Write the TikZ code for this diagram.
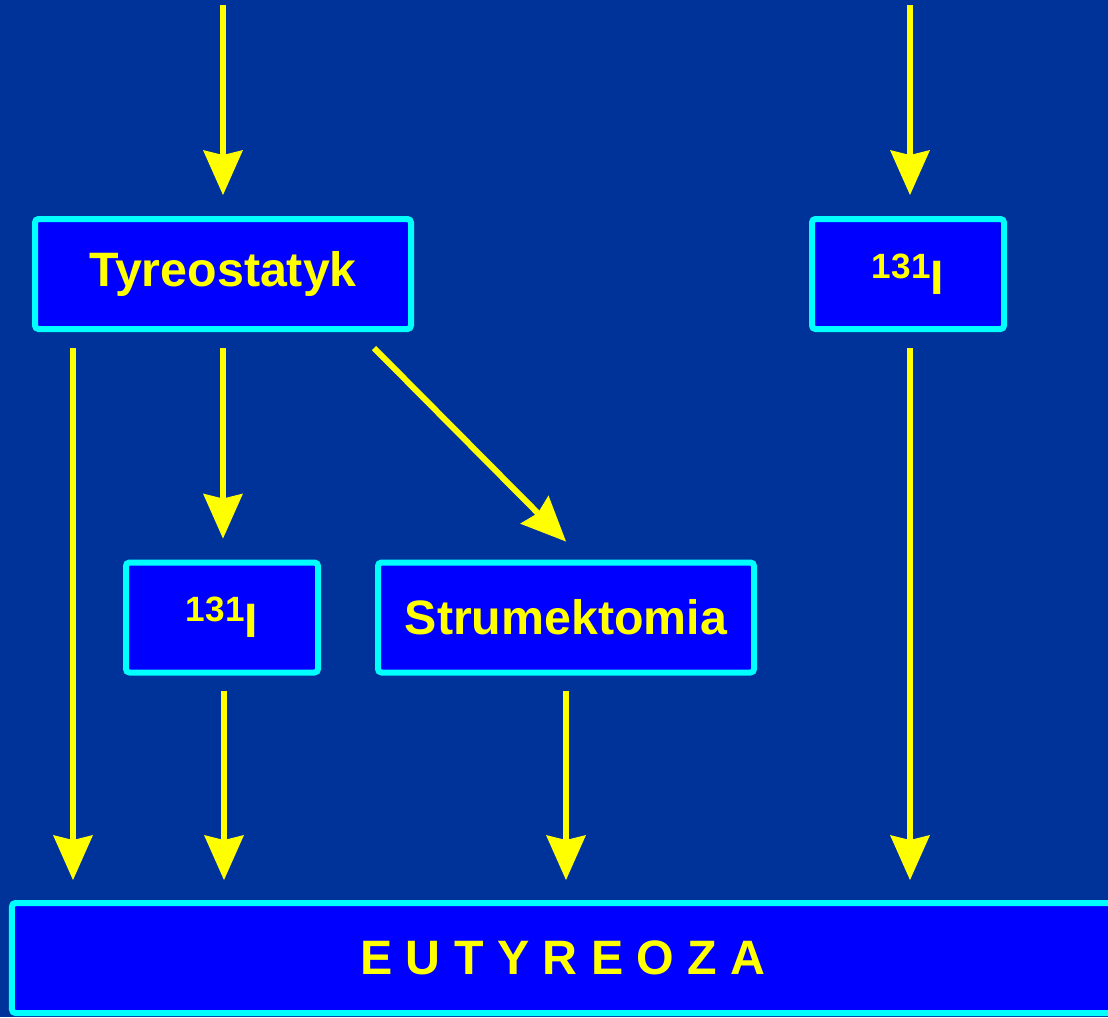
\documentclass[tikz,border=0pt]{standalone}
\usepackage{fontspec}
\setmainfont{Liberation Sans}
\usetikzlibrary{arrows.meta}
\definecolor{slidebg}{RGB}{0,51,153}
\definecolor{boxfill}{RGB}{0,0,255}
\definecolor{boxline}{RGB}{0,255,255}
\definecolor{arrowyellow}{RGB}{255,255,0}
\newcommand{\jodiso}{\raisebox{0.32cm}{\fontsize{20}{20}\selectfont 131}I}
\begin{document}
\begin{tikzpicture}[
  box/.style={draw=boxline, fill=boxfill, line width=0.12cm, rounded corners=2pt,
    inner sep=0pt, outer sep=0pt, minimum height=2.2cm, text=arrowyellow,
    font=\fontsize{27.5}{32}\selectfont\bfseries},
  arr/.style={draw=arrowyellow, line width=0.12cm,
    -{Stealth[length=0.9cm,width=0.8cm,inset=0.1cm,line width=0pt]}}
]
\useasboundingbox (0,0) rectangle (22.16,-20.34);
\fill[slidebg] (0,0) rectangle (22.16,-20.34);
\node[box, minimum width=7.52cm] (tyreo) at (4.46,-5.48) {Tyreostatyk};
\node[box, minimum width=3.84cm] (iR) at (18.16,-5.48) {\jodiso};
\node[box, minimum width=3.84cm] (iL) at (4.44,-12.35) {\jodiso};
\node[box, minimum width=7.52cm] (strum) at (11.32,-12.35) {Strumektomia};
\node[box, minimum width=22.04cm] (eu) at (11.26,-19.16) {E U T Y R E O Z A};
\coordinate (inL) at ([yshift=4.28cm]tyreo.north);
\coordinate (inR) at ([xshift=0.04cm,yshift=4.28cm]iR.north);
\draw[arr] (inL) -- ([yshift=0.48cm]tyreo.north);
\draw[arr] (inR) -- ([xshift=0.04cm,yshift=0.48cm]iR.north);
\draw[arr] ([xshift=-3cm,yshift=-0.38cm]tyreo.south) -- ([xshift=-3cm,yshift=0.46cm]tyreo.south |- eu.north);
\draw[arr] ([yshift=-0.38cm]tyreo.south) -- ([yshift=0.48cm]tyreo.south |- iL.north);
\draw[arr] ([xshift=3.02cm,yshift=-0.38cm]tyreo.south) -- ([yshift=0.42cm]strum.north);
\draw[arr] ([xshift=0.04cm,yshift=-0.38cm]iR.south) -- ([xshift=0.04cm,yshift=0.46cm]iR.south |- eu.north);
\draw[arr] ([xshift=0.04cm,yshift=-0.36cm]iL.south) -- ([xshift=0.04cm,yshift=0.46cm]iL.south |- eu.north);
\draw[arr] ([yshift=-0.36cm]strum.south) -- ([yshift=0.46cm]strum.south |- eu.north);
\end{tikzpicture}
\end{document}
